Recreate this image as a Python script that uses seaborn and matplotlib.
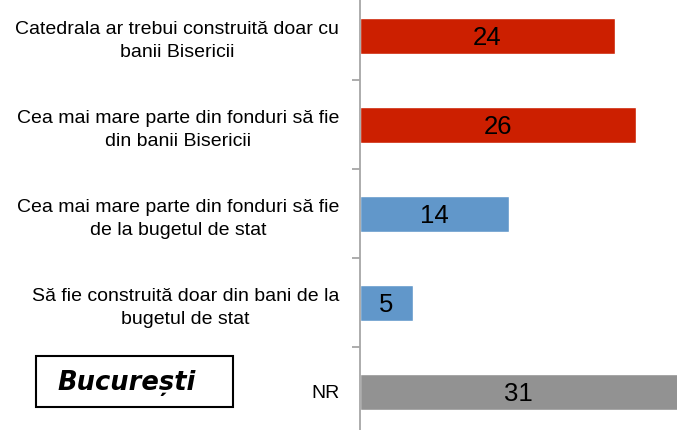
import matplotlib
matplotlib.use("Agg")
import matplotlib.pyplot as plt
import matplotlib.patches as mpatches
import pandas as pd
import seaborn as sns

categorii = [
    "Catedrala ar trebui construită doar cu\nbanii Bisericii",
    "Cea mai mare parte din fonduri să fie\ndin banii Bisericii",
    "Cea mai mare parte din fonduri să fie\nde la bugetul de stat",
    "Să fie construită doar din bani de la\nbugetul de stat",
    "NR",
]
valori = [24, 26, 14, 5, 31]
culori = ["#CC1F00", "#CC1F00", "#6197CA", "#6197CA", "#929292"]

df = pd.DataFrame({"cat": categorii, "val": valori})

sns.set_style("white")
plt.rcParams["font.family"] = ["Liberation Sans", "DejaVu Sans"]
plt.rcParams["text.color"] = "black"

fig = plt.figure(figsize=(6.77, 4.30), dpi=100)
ax = fig.add_axes([360 / 677, 0, 1 - 360 / 677, 1])

sns.barplot(data=df, y="cat", x="val", hue="cat", palette=culori,
            orient="h", width=0.405, legend=False, ax=ax, saturation=1)

xmax = 29.85
ax.set_xlim(0, xmax)
ax.set_ylim(4.427, -0.404)

for i, v in enumerate(valori):
    ax.text(min(v, xmax) / 2, i + 0.02, str(v), ha="center", va="center",
            fontsize=18.5, color="black")

for s in ["top", "right", "bottom"]:
    ax.spines[s].set_visible(False)
ax.spines["left"].set_color("#A6A6A6")
ax.spines["left"].set_linewidth(1.3)

ax.set_xticks([])
ax.set_xlabel("")
ax.set_ylabel("")
ax.set_yticks(range(len(categorii)))
ax.set_yticklabels(categorii, fontsize=14, color="black")
for lbl in ax.get_yticklabels():
    lbl.set_multialignment("center")
    lbl.set_linespacing(1.45)
ax.tick_params(axis="y", which="major", length=0, pad=15, labelcolor="black")
ax.set_yticks([0.5, 1.5, 2.5, 3.5], minor=True)
ax.tick_params(axis="y", which="minor", length=6, width=1.3,
               color="#A6A6A6", direction="out", left=True)

fig.patches.append(mpatches.Rectangle((36 / 677, 1 - 407 / 430), 197 / 677, 51 / 430,
                                      transform=fig.transFigure, fill=False,
                                      edgecolor="black", linewidth=1.5))
fig.text(127 / 677, 1 - 383 / 430, "București", ha="center", va="center",
         fontsize=18.5, fontweight="bold", fontstyle="italic",
         family=["DejaVu Sans"], color="black")

fig.savefig("out.png", dpi=100)
